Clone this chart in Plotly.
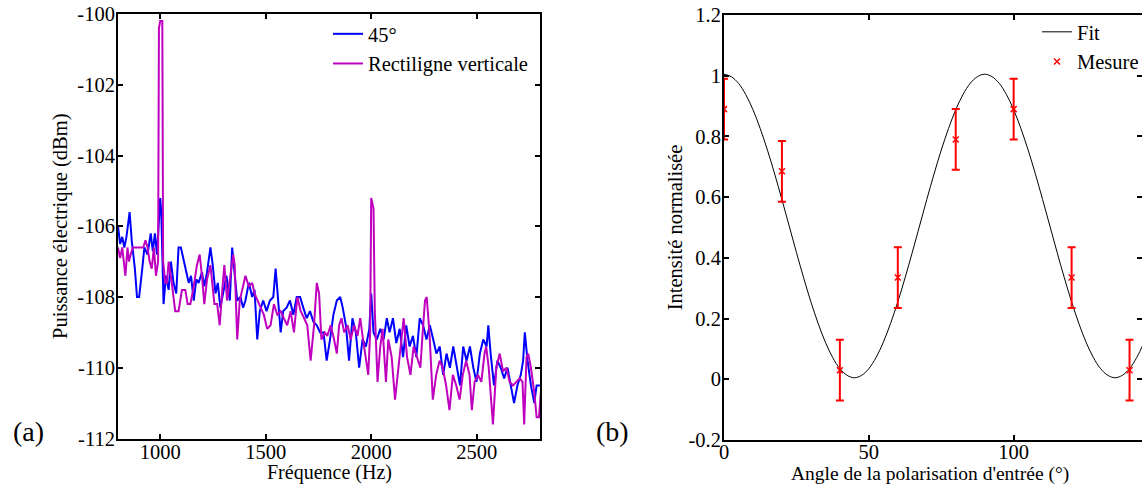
import plotly.graph_objects as go

# ---------------- Panel (a): spectrum ----------------
freq_45 = [800, 810, 820, 830, 840, 850, 855, 865, 880, 890, 900, 915, 925, 940, 955, 965, 975, 985, 995, 1000,
           1005, 1010, 1016, 1027, 1040, 1051, 1063, 1076, 1087, 1098, 1111, 1124, 1135, 1146, 1159, 1171, 1182,
           1198, 1209, 1222, 1238, 1249, 1262, 1273, 1285, 1298, 1314, 1330, 1341, 1352, 1365, 1380, 1393, 1404,
           1420, 1436, 1447, 1460, 1472, 1488, 1504, 1520, 1536, 1547, 1558, 1571, 1583, 1599, 1615, 1631, 1647,
           1663, 1678, 1694, 1710, 1726, 1742, 1758, 1774, 1789, 1805, 1821, 1837, 1853, 1865, 1880, 1895, 1911,
           1927, 1943, 1959, 1975, 1991, 2000, 2011, 2027, 2043, 2059, 2074, 2087, 2103, 2119, 2135, 2151, 2166,
           2182, 2198, 2214, 2230, 2246, 2262, 2278, 2294, 2309, 2325, 2341, 2357, 2373, 2389, 2405, 2421, 2436,
           2452, 2468, 2484, 2499, 2515, 2531, 2547, 2555, 2566, 2582, 2598, 2614, 2630, 2646, 2662, 2677, 2693,
           2709, 2720, 2728, 2741, 2757, 2773, 2784, 2800]
power_45 = [-106.0, -106.5, -106.3, -106.6, -106.3, -105.9, -105.6, -106.4, -107.2, -108.0, -108.0, -107.2, -106.6,
            -106.8, -106.2, -106.7, -106.2, -106.8, -105.5, -105.2, -105.6, -107.0, -108.2, -107.4, -107.8, -107.0,
            -107.6, -107.9, -106.6, -106.6, -107.0, -107.3, -107.6, -107.4, -108.1, -107.5, -107.6, -107.3, -107.7,
            -107.3, -106.6, -107.1, -107.9, -107.6, -108.3, -107.9, -107.4, -108.1, -106.6, -107.3, -108.1, -108.0,
            -108.3, -108.1, -107.6, -108.0, -107.8, -109.2, -108.4, -108.1, -108.4, -108.1, -108.0, -107.2, -108.0,
            -109.0, -108.4, -108.3, -108.1, -108.5, -108.0, -108.0, -108.3, -108.6, -108.4, -108.7, -108.8, -109.0,
            -109.0, -109.8, -109.2, -108.5, -108.1, -108.0, -108.3, -108.8, -109.8, -108.6, -109.0, -110.0, -109.2,
            -109.4, -108.9, -107.9, -109.0, -109.2, -108.9, -109.2, -108.6, -109.0, -108.6, -109.3, -108.9, -109.7,
            -108.8, -109.4, -109.1, -109.7, -108.6, -108.8, -109.2, -108.8, -109.2, -109.6, -109.4, -110.2, -109.6,
            -110.0, -109.4, -110.0, -110.5, -109.4, -109.8, -109.4, -110.0, -110.4, -109.6, -109.2, -109.4, -108.8,
            -109.6, -110.5, -109.8, -110.0, -110.3, -110.0, -110.5, -111.0, -110.5, -110.2, -109.8, -109.0, -109.8,
            -110.5, -111.0, -110.5, -110.5]

freq_vert = [800, 810, 820, 828, 835, 845, 852, 860, 870, 920, 930, 940, 950, 960, 970, 980, 990, 994, 1000, 1010,
             1014, 1024, 1032, 1040, 1055, 1071, 1087, 1103, 1119, 1130, 1143, 1159, 1174, 1187, 1198, 1209, 1222,
             1238, 1257, 1270, 1282, 1293, 1304, 1317, 1333, 1346, 1353, 1365, 1377, 1388, 1404, 1420, 1436, 1447,
             1460, 1476, 1491, 1507, 1523, 1539, 1555, 1571, 1586, 1602, 1618, 1634, 1650, 1666, 1682, 1697, 1713,
             1729, 1742, 1753, 1764, 1780, 1792, 1808, 1824, 1837, 1848, 1859, 1872, 1888, 1903, 1919, 1935, 1948,
             1959, 1975, 1986, 1995, 2000, 2011, 2017, 2030, 2043, 2054, 2070, 2081, 2097, 2113, 2125, 2141, 2154,
             2170, 2186, 2201, 2217, 2233, 2244, 2255, 2263, 2276, 2292, 2308, 2324, 2339, 2355, 2371, 2387, 2403,
             2419, 2434, 2450, 2466, 2477, 2490, 2506, 2522, 2537, 2545, 2557, 2569, 2577, 2593, 2609, 2625, 2641,
             2656, 2672, 2688, 2704, 2717, 2725, 2736, 2744, 2757, 2773, 2784, 2795, 2808]
power_vert = [-106.6, -106.9, -106.6, -107.0, -107.4, -106.6, -107.0, -106.8, -106.6, -106.6, -106.4, -106.6,
              -107.0, -107.2, -106.6, -107.4, -107.0, -100.4, -100.2, -100.2, -107.0, -107.6, -107.6, -107.0,
              -107.6, -108.4, -108.4, -107.8, -107.8, -108.2, -108.2, -107.7, -107.1, -106.8, -107.4, -108.2,
              -107.5, -107.1, -108.2, -108.2, -108.8, -107.9, -107.1, -108.1, -107.4, -106.8, -107.1, -109.2,
              -108.1, -107.8, -107.4, -107.7, -107.6, -107.9, -108.1, -108.3, -108.5, -108.9, -108.8, -108.2,
              -108.5, -108.4, -108.6, -108.8, -108.4, -109.0, -108.0, -108.4, -108.6, -108.8, -109.8, -108.8,
              -107.6, -107.9, -109.2, -109.0, -109.1, -108.8, -109.2, -109.6, -108.8, -108.6, -109.0, -108.8,
              -109.2, -108.8, -109.1, -108.6, -109.1, -109.7, -110.2, -109.0, -105.2, -105.5, -108.4, -110.4,
              -109.4, -108.9, -110.4, -109.2, -109.7, -110.9, -110.2, -109.4, -108.6, -109.7, -110.2, -109.4,
              -109.7, -110.0, -109.0, -108.1, -108.0, -109.0, -110.9, -110.2, -109.8, -110.0, -110.5, -111.2,
              -110.2, -110.5, -110.9, -110.2, -109.8, -110.2, -111.2, -110.4, -110.2, -110.4, -109.6, -109.4,
              -110.0, -111.1, -111.6, -110.0, -109.6, -110.1, -110.0, -110.4, -110.5, -110.4, -110.3, -110.4,
              -111.6, -109.7, -109.6, -110.0, -110.7, -111.4, -111.4, -110.4]

a_xticks = [1000, 1500, 2000, 2500]
a_yticks = [-100, -102, -104, -106, -108, -110, -112]

# ---------------- Panel (b): polarisation ----------------
fit_angle = [0, 2.5, 5, 7.5, 10, 12.5, 15, 17.5, 20, 22.5, 25, 27.5, 30, 32.5, 35, 37.5, 40, 42.5, 45, 47.5,
             50, 52.5, 55, 57.5, 60, 62.5, 65, 67.5, 70, 72.5, 75, 77.5, 80, 82.5, 85, 87.5, 90, 92.5, 95, 97.5,
             100, 102.5, 105, 107.5, 110, 112.5, 115, 117.5, 120, 122.5, 125, 127.5, 130, 132.5, 135, 137.5,
             140, 142.5, 145]
fit_value = [1.005, 0.997, 0.975, 0.938, 0.888, 0.826, 0.755, 0.676, 0.592, 0.505, 0.418, 0.334, 0.255, 0.184,
             0.122, 0.072, 0.035, 0.013, 0.005, 0.013, 0.035, 0.072, 0.122, 0.184, 0.255, 0.334, 0.418, 0.505,
             0.592, 0.676, 0.755, 0.826, 0.888, 0.938, 0.975, 0.997, 1.005, 0.997, 0.975, 0.938, 0.888, 0.826,
             0.755, 0.676, 0.592, 0.505, 0.418, 0.334, 0.255, 0.184, 0.122, 0.072, 0.035, 0.013, 0.005, 0.013,
             0.035, 0.072, 0.122]

meas_angle = [0, 20, 40, 60, 80, 100, 120, 140]
meas_value = [0.89, 0.685, 0.03, 0.335, 0.79, 0.89, 0.335, 0.03]
meas_err = [0.1, 0.1, 0.1, 0.1, 0.1, 0.1, 0.1, 0.1]

b_xticks = [0, 50, 100]
b_yticks = [-0.2, 0, 0.2, 0.4, 0.6, 0.8, 1.0, 1.2]
b_yticktext = ["-0.2", "0", "0.2", "0.4", "0.6", "0.8", "1", "1.2"]

FONT = "Liberation Serif"
TICK_SIZE = 20.5
TEXT_SIZE = 20.5
W, H = 1142, 485

fig = go.Figure()

fig.add_trace(go.Scatter(x=freq_45, y=power_45, mode="lines", name="45°",
                         line=dict(color="#0000FF", width=2), xaxis="x", yaxis="y", legend="legend"))
fig.add_trace(go.Scatter(x=freq_vert, y=power_vert, mode="lines", name="Rectiligne verticale",
                         line=dict(color="#BF00BF", width=2), xaxis="x", yaxis="y", legend="legend"))

fig.add_trace(go.Scatter(x=fit_angle, y=fit_value, mode="lines", name="Fit", line_shape="spline",
                         line=dict(color="black", width=1), xaxis="x2", yaxis="y2", legend="legend2"))
fig.add_trace(go.Scatter(x=meas_angle, y=meas_value, mode="markers", name="Mesure",
                         marker=dict(symbol="x-thin", size=6, color="red", line=dict(color="red", width=1.5)),
                         error_y=dict(type="data", array=meas_err, color="red", thickness=2, width=4),
                         xaxis="x2", yaxis="y2", legend="legend2"))

axis_common = dict(showline=True, linecolor="black", linewidth=2, mirror="ticks", ticks="inside",
                   ticklen=5, tickwidth=1.5, tickcolor="black", showgrid=False, zeroline=False,
                   tickfont=dict(family=FONT, size=TICK_SIZE, color="black"))

fig.update_layout(
    width=W, height=H,
    margin=dict(l=0, r=0, t=0, b=0, autoexpand=False),
    paper_bgcolor="white", plot_bgcolor="white",
    font=dict(family=FONT, size=TEXT_SIZE, color="black"),
    xaxis=dict(domain=[118 / W, 540 / W], range=[800, 2800], tickvals=a_xticks,
               ticktext=[str(v) for v in a_xticks], anchor="y", ticklabelstandoff=-6,
               **axis_common),
    yaxis=dict(domain=[1 - 438.5 / H, 1 - 14 / H], range=[-112, -100], tickvals=a_yticks,
               ticktext=["-" + str(abs(v)) for v in a_yticks], anchor="x", ticklabelstandoff=-3,
               title=dict(text="Puissance électrique (dBm)", standoff=4, font=dict(family=FONT, size=TEXT_SIZE)),
               **axis_common),
    xaxis2=dict(domain=[724 / W, 1.0], range=[0, 144.3], tickvals=b_xticks,
                ticktext=[str(v) for v in b_xticks], anchor="y2", ticklabelstandoff=-8,
                **axis_common),
    yaxis2=dict(domain=[1 - 440 / H, 1 - 15 / H], range=[-0.2, 1.2], tickvals=b_yticks,
                ticktext=b_yticktext, anchor="x2", ticklabelstandoff=-3,
                title=dict(text="Intensité normalisée", standoff=0, font=dict(family=FONT, size=TEXT_SIZE)),
                **axis_common),
    legend=dict(x=328 / W, y=1 - 14 / H, xanchor="left", yanchor="top", bgcolor="rgba(0,0,0,0)",
                font=dict(family=FONT, size=TEXT_SIZE), tracegroupgap=0, itemwidth=30),
    legend2=dict(x=1037 / W, y=1 - 12 / H, xanchor="left", yanchor="top", bgcolor="rgba(0,0,0,0)",
                 font=dict(family=FONT, size=TEXT_SIZE), tracegroupgap=0, itemwidth=30),
    annotations=[
        dict(text="Fréquence (Hz)", x=329 / W, y=1 - 472 / H, xref="paper", yref="paper", showarrow=False,
             font=dict(family=FONT, size=20, color="black"), xanchor="center", yanchor="middle"),
        dict(text="Angle de la polarisation d'entrée (°)", x=930 / W, y=1 - 474 / H, xref="paper", yref="paper",
             showarrow=False, font=dict(family=FONT, size=19.5, color="black"), xanchor="center", yanchor="middle"),
        dict(text="(a)", x=28 / W, y=1 - 431 / H, xref="paper", yref="paper", showarrow=False,
             font=dict(family=FONT, size=28, color="black"), xanchor="center", yanchor="middle"),
        dict(text="(b)", x=612 / W, y=1 - 431 / H, xref="paper", yref="paper", showarrow=False,
             font=dict(family=FONT, size=28, color="black"), xanchor="center", yanchor="middle"),
    ],
    showlegend=True,
)

fig.write_html("out.html", config={"displayModeBar": False},
               post_script="document.body.style.margin='0px';document.body.style.overflow='hidden';")
